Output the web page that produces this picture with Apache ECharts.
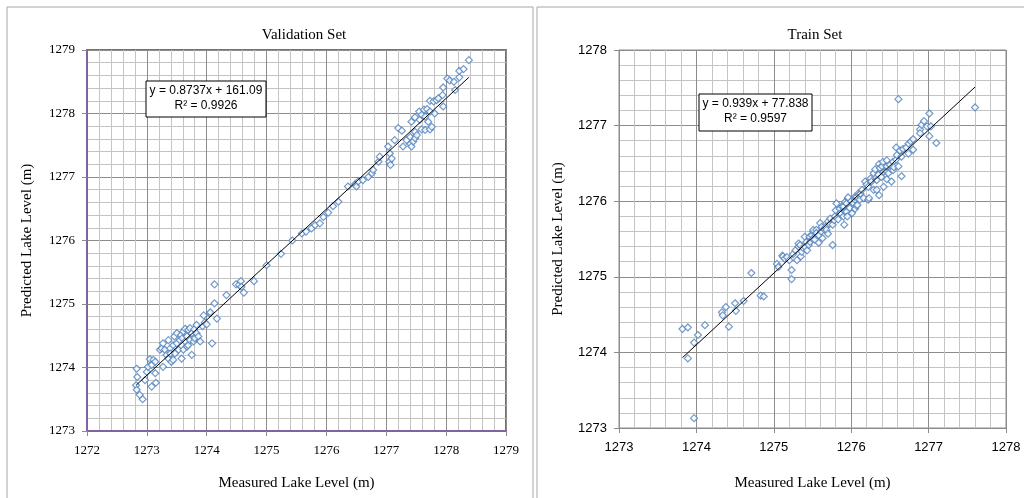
<!DOCTYPE html>
<html>
<head>
<meta charset="utf-8">
<script src="https://cdn.jsdelivr.net/npm/echarts@6/dist/echarts.min.js"></script>
<style>
  html, body { margin: 0; padding: 0; background: #fff; }
  #main { width: 1024px; height: 498px; }
</style>
</head>
<body>
<div id="main"></div>
<script>
// validation set: [measured, predicted]
const valPoints = [
  [1272.82,1273.72],[1272.83,1273.65],[1272.83,1273.98],[1272.84,1273.85],[1272.88,1273.57],[1272.93,1273.50],
  [1272.97,1273.80],[1273.00,1273.93],[1273.02,1274.01],[1273.05,1274.13],[1273.08,1274.04],[1273.08,1273.70],
  [1273.11,1274.12],[1273.14,1274.09],[1273.14,1273.91],[1273.15,1273.76],[1273.22,1274.28],[1273.25,1274.30],
  [1273.27,1274.38],[1273.27,1274.01],[1273.30,1274.28],[1273.33,1274.20],[1273.36,1274.43],[1273.36,1274.14],
  [1273.39,1274.30],[1273.39,1274.22],[1273.41,1274.09],[1273.44,1274.35],[1273.44,1274.12],[1273.46,1274.49],
  [1273.47,1274.22],[1273.50,1274.54],[1273.50,1274.38],[1273.53,1274.28],[1273.55,1274.43],[1273.57,1274.51],
  [1273.58,1274.14],[1273.59,1274.46],[1273.61,1274.57],[1273.61,1274.28],[1273.64,1274.61],[1273.64,1274.41],
  [1273.67,1274.49],[1273.67,1274.33],[1273.69,1274.59],[1273.69,1274.35],[1273.72,1274.62],[1273.72,1274.43],
  [1273.75,1274.54],[1273.75,1274.20],[1273.78,1274.41],[1273.79,1274.60],[1273.80,1274.46],[1273.83,1274.67],
  [1273.83,1274.54],[1273.86,1274.49],[1273.89,1274.41],[1273.93,1274.65],[1273.95,1274.82],[1273.97,1274.71],
  [1274.00,1274.68],[1274.05,1274.85],[1274.06,1274.87],[1274.09,1274.38],[1274.13,1275.01],[1274.13,1275.31],
  [1274.17,1274.77],[1274.33,1275.14],[1274.49,1275.31],[1274.54,1275.30],[1274.57,1275.36],[1274.58,1275.27],
  [1274.62,1275.18],[1274.79,1275.36],[1275.00,1275.61],[1275.24,1275.79],[1275.43,1276.00],[1275.59,1276.11],
  [1275.66,1276.14],[1275.75,1276.19],[1275.81,1276.24],[1275.89,1276.27],[1275.95,1276.37],[1276.03,1276.44],
  [1276.11,1276.54],[1276.20,1276.61],[1276.36,1276.85],[1276.48,1276.89],[1276.50,1276.85],[1276.53,1276.93],
  [1276.61,1276.95],[1276.70,1277.00],[1276.76,1277.06],[1276.78,1277.11],[1276.87,1277.24],[1276.89,1277.32],
  [1277.03,1277.48],[1277.05,1277.24],[1277.06,1277.37],[1277.07,1277.19],[1277.09,1277.29],[1277.14,1277.58],
  [1277.20,1277.77],[1277.26,1277.73],[1277.28,1277.48],[1277.34,1277.58],[1277.40,1277.63],[1277.40,1277.52],
  [1277.42,1277.48],[1277.42,1277.87],[1277.45,1277.56],[1277.48,1277.61],[1277.48,1277.71],[1277.48,1277.94],
  [1277.51,1277.66],[1277.55,1278.03],[1277.56,1277.90],[1277.59,1277.98],[1277.59,1277.75],[1277.63,1278.06],
  [1277.65,1277.95],[1277.65,1277.74],[1277.68,1278.07],[1277.70,1277.87],[1277.73,1278.03],[1277.73,1277.75],
  [1277.73,1278.20],[1277.76,1277.79],[1277.79,1278.19],[1277.81,1278.00],[1277.84,1278.21],[1277.87,1278.24],
  [1277.94,1278.29],[1277.95,1278.11],[1277.95,1278.41],[1278.02,1278.55],[1278.06,1278.52],[1278.13,1278.50],
  [1278.15,1278.37],[1278.22,1278.57],[1278.22,1278.67],[1278.29,1278.70],[1278.38,1278.84]
];

// train set: [measured, predicted]
const trainPoints = [
  [1273.82,1274.31],[1273.89,1274.33],[1273.89,1273.92],[1273.97,1274.13],[1273.97,1273.13],[1274.02,1274.23],
  [1274.11,1274.36],[1274.33,1274.53],[1274.34,1274.49],[1274.38,1274.60],[1274.42,1274.34],[1274.50,1274.65],
  [1274.51,1274.55],[1274.61,1274.68],[1274.71,1275.05],[1274.83,1274.75],[1274.87,1274.74],[1275.04,1275.17],
  [1275.06,1275.13],[1275.11,1275.28],[1275.12,1275.27],[1275.14,1275.24],[1275.17,1275.26],[1275.20,1275.22],
  [1275.23,1275.09],[1275.23,1274.97],[1275.25,1275.30],[1275.28,1275.35],[1275.30,1275.22],[1275.32,1275.40],
  [1275.32,1275.44],[1275.34,1275.42],[1275.35,1275.27],[1275.36,1275.33],[1275.38,1275.38],[1275.40,1275.53],
  [1275.40,1275.40],[1275.42,1275.46],[1275.43,1275.35],[1275.45,1275.42],[1275.46,1275.53],[1275.47,1275.46],
  [1275.49,1275.55],[1275.50,1275.50],[1275.51,1275.60],[1275.51,1275.62],[1275.53,1275.49],[1275.55,1275.62],
  [1275.55,1275.58],[1275.58,1275.55],[1275.58,1275.45],[1275.60,1275.71],[1275.61,1275.60],[1275.62,1275.66],
  [1275.63,1275.51],[1275.65,1275.63],[1275.67,1275.66],[1275.68,1275.62],[1275.70,1275.73],[1275.70,1275.57],
  [1275.72,1275.70],[1275.73,1275.77],[1275.76,1275.42],[1275.76,1275.69],[1275.78,1275.75],[1275.79,1275.80],
  [1275.80,1275.88],[1275.81,1275.97],[1275.83,1275.76],[1275.85,1275.90],[1275.86,1275.84],[1275.88,1275.93],
  [1275.90,1275.93],[1275.90,1275.80],[1275.91,1275.69],[1275.92,1275.86],[1275.92,1275.99],[1275.94,1275.97],
  [1275.94,1275.86],[1275.95,1275.80],[1275.96,1276.04],[1275.96,1276.05],[1275.98,1275.91],[1276.00,1276.00],
  [1276.01,1275.84],[1276.03,1275.97],[1276.05,1276.02],[1276.05,1276.06],[1276.05,1275.90],[1276.07,1276.06],
  [1276.07,1275.94],[1276.08,1275.95],[1276.09,1276.10],[1276.10,1276.08],[1276.11,1276.02],[1276.12,1276.10],
  [1276.14,1276.15],[1276.16,1276.04],[1276.18,1276.26],[1276.20,1276.22],[1276.22,1276.19],[1276.22,1276.02],
  [1276.23,1276.04],[1276.25,1276.30],[1276.26,1276.26],[1276.29,1276.37],[1276.29,1276.15],[1276.31,1276.42],
  [1276.33,1276.28],[1276.33,1276.15],[1276.35,1276.35],[1276.36,1276.49],[1276.36,1276.08],[1276.37,1276.44],
  [1276.39,1276.32],[1276.40,1276.46],[1276.41,1276.52],[1276.42,1276.39],[1276.42,1276.19],[1276.45,1276.40],
  [1276.46,1276.54],[1276.46,1276.46],[1276.46,1276.29],[1276.48,1276.37],[1276.50,1276.48],[1276.52,1276.26],
  [1276.54,1276.52],[1276.54,1276.41],[1276.55,1276.45],[1276.58,1276.71],[1276.58,1276.55],[1276.59,1276.61],
  [1276.61,1276.46],[1276.61,1277.35],[1276.63,1276.67],[1276.65,1276.59],[1276.65,1276.33],[1276.67,1276.69],
  [1276.71,1276.71],[1276.74,1276.76],[1276.74,1276.63],[1276.77,1276.79],[1276.80,1276.82],[1276.80,1276.68],
  [1276.89,1276.95],[1276.89,1276.90],[1276.91,1277.01],[1276.94,1277.06],[1276.98,1276.99],[1277.01,1277.16],
  [1277.01,1276.86],[1277.03,1276.99],[1277.10,1276.77],[1277.60,1277.24]
];

// fitted trend lines (end points as drawn)
const valTrend = [[1272.82,1273.72],[1278.38,1278.57]];
const trainTrend = [[1273.82,1273.93],[1277.60,1277.51]];

const valEquation = ['y = 0.8737x + 161.09', 'R² = 0.9926'];
const trainEquation = ['y = 0.939x + 77.838', 'R² = 0.9597'];

const serif = '"Liberation Serif", "Times New Roman", serif';
const sans = '"Liberation Sans", Arial, sans-serif';
const majorGrid = '#8c8c8c';
const minorGrid = '#c4c4c4';
const purple = '#8064A2';

const intLabel = v => (Math.abs(v - Math.round(v)) < 1e-6 ? String(Math.round(v)) : '');

const makeAxis = (idx, min, max, axisColor, axisWidth, font, isX) => ({
  type: 'value',
  gridIndex: idx,
  min: min,
  max: max,
  interval: 1,
  name: isX ? 'Measured Lake Level (m)' : 'Predicted Lake Level (m)',
  nameLocation: 'middle',
  nameGap: isX ? (idx === 0 ? 45 : 48) : (idx === 0 ? 52 : 53),
  nameTextStyle: { fontFamily: serif, fontSize: 15, color: '#000' },
  axisLine: { show: true, onZero: false, lineStyle: { color: axisColor, width: axisWidth } },
  axisTick: { show: true, length: 5, lineStyle: { color: '#8c8c8c' } },
  axisLabel: { formatter: intLabel, fontFamily: font, fontSize: 13, color: '#000', margin: isX ? 13 : 12 },
  splitLine: { show: true, lineStyle: { color: majorGrid, width: 1 } },
  minorTick: { show: false, splitNumber: 5 },
  minorSplitLine: { show: true, lineStyle: { color: minorGrid, width: 1 } }
});

const scatterStyle = {
  type: 'scatter',
  symbol: 'diamond',
  symbolSize: 7,
  itemStyle: { color: '#fff', borderColor: '#4F81BD', borderWidth: 1.2 },
  z: 3
};

const trendStyle = {
  type: 'line',
  showSymbol: false,
  symbol: 'none',
  lineStyle: { color: '#000', width: 1 },
  z: 4,
  silent: true
};

// equation label box (white box with black border, two centred lines)
const eqBox = (x, y, w, h, lines) => [
  { type: 'rect', z: 100,
    shape: { x: x, y: y, width: w, height: h },
    style: { fill: '#fff', stroke: '#000', lineWidth: 1 } },
  { type: 'text', x: x + w / 2, y: y + 4, z: 101,
    style: { text: lines[0], font: '12px ' + sans, fill: '#000', textAlign: 'center', textVerticalAlign: 'top' } },
  { type: 'text', x: x + w / 2, y: y + 19, z: 101,
    style: { text: lines[1], font: '12px ' + sans, fill: '#000', textAlign: 'center', textVerticalAlign: 'top' } }
];

const chart = echarts.init(document.getElementById('main'));
chart.setOption({
  animation: false,
  backgroundColor: '#fff',
  title: [
    { text: 'Validation Set', left: 299, top: 23, textAlign: 'center',
      textStyle: { fontFamily: serif, fontSize: 15, fontWeight: 'normal', color: '#000' } },
    { text: 'Train Set', left: 810, top: 23, textAlign: 'center',
      textStyle: { fontFamily: serif, fontSize: 15, fontWeight: 'normal', color: '#000' } }
  ],
  grid: [
    { left: 87, top: 50, width: 419, height: 381, show: true, borderColor: purple, borderWidth: 2, backgroundColor: 'transparent' },
    { left: 619, top: 50, width: 387, height: 378, show: true, borderColor: '#8c8c8c', borderWidth: 1, backgroundColor: 'transparent' }
  ],
  xAxis: [
    makeAxis(0, 1272, 1279, purple, 2, serif, true),
    makeAxis(1, 1273, 1278, '#8c8c8c', 1, sans, true)
  ],
  yAxis: [
    makeAxis(0, 1273, 1279, purple, 2, serif, false),
    makeAxis(1, 1273, 1278, '#8c8c8c', 1, sans, false)
  ],
  series: [
    Object.assign({}, scatterStyle, { xAxisIndex: 0, yAxisIndex: 0, data: valPoints }),
    Object.assign({}, trendStyle, { xAxisIndex: 0, yAxisIndex: 0, data: valTrend }),
    Object.assign({}, scatterStyle, { xAxisIndex: 1, yAxisIndex: 1, data: trainPoints }),
    Object.assign({}, trendStyle, { xAxisIndex: 1, yAxisIndex: 1, data: trainTrend })
  ],
  graphic: [
    // panel frames
    { type: 'rect', z: -1,
      shape: { x: 7, y: 7, width: 526, height: 520 }, style: { fill: 'none', stroke: '#a6a6a6', lineWidth: 1 } },
    { type: 'rect', z: -1,
      shape: { x: 537, y: 7, width: 500, height: 520 }, style: { fill: 'none', stroke: '#a6a6a6', lineWidth: 1 } }
  ].concat(eqBox(146, 81, 120, 36, valEquation), eqBox(699, 94, 113, 37, trainEquation))
});
</script>
</body>
</html>
